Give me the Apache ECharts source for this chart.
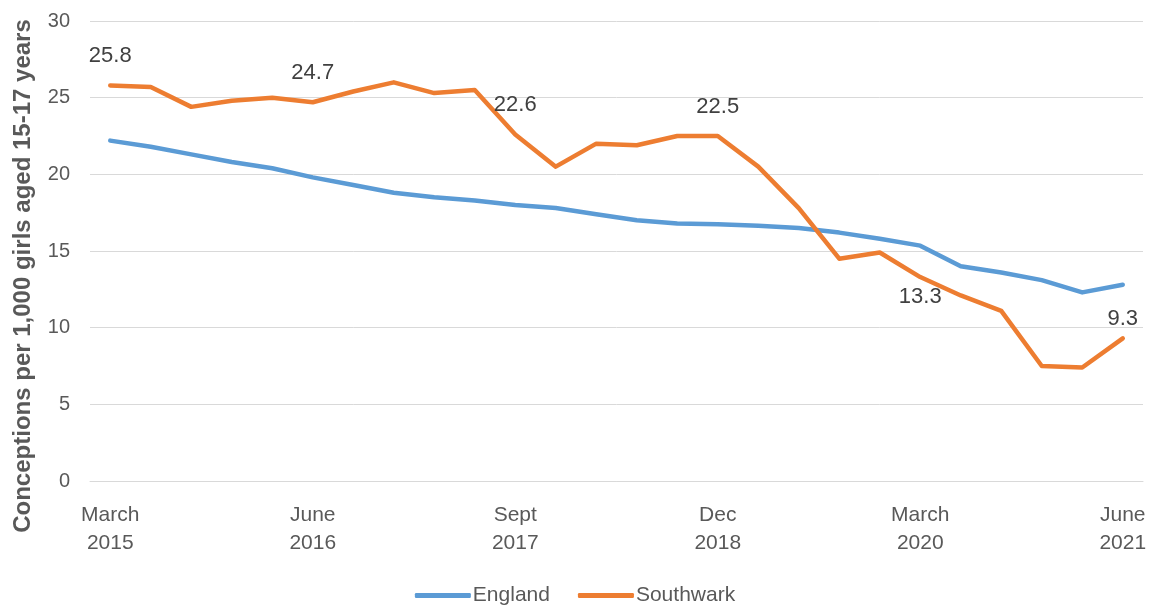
<!DOCTYPE html>
<html>
<head>
<meta charset="utf-8">
<script src="https://cdn.jsdelivr.net/npm/echarts@6/dist/echarts.min.js"></script>
<style>
html,body{margin:0;padding:0;background:#fff;}
#chart{width:1150px;height:606px;}
</style>
</head>
<body>
<div id="chart"></div>
<script>
var categories = [
  "March\n2015","June\n2015","Sept\n2015","Dec\n2015",
  "March\n2016","June\n2016","Sept\n2016","Dec\n2016",
  "March\n2017","June\n2017","Sept\n2017","Dec\n2017",
  "March\n2018","June\n2018","Sept\n2018","Dec\n2018",
  "March\n2019","June\n2019","Sept\n2019","Dec\n2019",
  "March\n2020","June\n2020","Sept\n2020","Dec\n2020",
  "March\n2021","June\n2021"
];
var england = [22.2,21.8,21.3,20.8,20.4,19.8,19.3,18.8,18.5,18.3,18.0,17.8,
               17.4,17.0,16.8,16.75,16.65,16.5,16.2,15.8,15.35,14.0,13.6,13.1,12.3,12.8];
var southwark = [25.8,25.7,24.4,24.8,25.0,24.7,25.4,26.0,25.3,25.5,22.6,20.5,
                 22.0,21.9,22.5,22.5,20.5,17.8,14.5,14.9,13.3,12.1,11.1,7.5,7.4,9.3];
var labelledPoints = [0,5,10,15,20,25];
var labelBelow = [20];
var labelNear = [25];
var yTitle = "Conceptions per 1,000 girls aged 15-17 years";

var FONT = "'Liberation Sans', Arial, sans-serif";

var swData = southwark.map(function(v,i){
  if (labelledPoints.indexOf(i) < 0) return {value: v};
  var below = labelBelow.indexOf(i) >= 0;
  var near = labelNear.indexOf(i) >= 0;
  return {
    value: v,
    label: {
      show: true,
      position: below ? 'bottom' : 'top',
      distance: below ? 8 : (near ? 8 : 18)
    }
  };
});

var chart = echarts.init(document.getElementById('chart'), null, {renderer:'canvas'});
chart.setOption({
  animation: false,
  backgroundColor: '#ffffff',
  grid: {left: 90, right: 7, top: 21, bottom: 125, containLabel: false, outerBoundsMode: 'none'},
  xAxis: {
    type: 'category',
    data: categories,
    boundaryGap: true,
    axisTick: {show: false},
    axisLine: {show: true, lineStyle: {color: '#D9D9D9', width: 1}},
    axisLabel: {interval: 4, margin: 20, fontFamily: FONT, fontSize: 21, color: '#595959', lineHeight: 28}
  },
  yAxis: {
    type: 'value',
    min: 0, max: 30, interval: 5,
    axisLine: {show: false},
    axisTick: {show: false},
    splitLine: {lineStyle: {color: '#D9D9D9', width: 1}},
    axisLabel: {margin: 20, fontFamily: FONT, fontSize: 20, color: '#595959'}
  },
  legend: {
    top: 580, left: 'center',
    icon: 'roundRect', itemWidth: 56, itemHeight: 5, itemGap: 28,
    textStyle: {fontFamily: FONT, fontSize: 21, color: '#595959', padding: [0,0,0,-3]},
    data: ['England','Southwark']
  },
  graphic: [{
    type: 'text',
    x: 23, y: 276,
    rotation: Math.PI/2,
    style: {
      text: yTitle,
      fontFamily: FONT, fontSize: 24, fontWeight: 'bold',
      fill: '#595959', align: 'center', verticalAlign: 'middle'
    }
  }],
  series: [
    {name: 'England', type: 'line', data: england, symbol: 'none',
     emphasis: {disabled: true},
     lineStyle: {color: '#5B9BD5', width: 4.5, cap: 'round', join: 'round'},
     itemStyle: {color: '#5B9BD5'}},
    {name: 'Southwark', type: 'line', data: swData,
     symbol: 'circle', symbolSize: 1, showSymbol: true, showAllSymbol: true,
     emphasis: {disabled: true},
     label: {show: false, fontFamily: FONT, fontSize: 22, color: '#404040',
             formatter: function(p){ return p.value.toFixed(1); }},
     lineStyle: {color: '#ED7D31', width: 4.5, cap: 'round', join: 'round'},
     itemStyle: {color: '#ED7D31'}}
  ]
});
</script>
</body>
</html>
